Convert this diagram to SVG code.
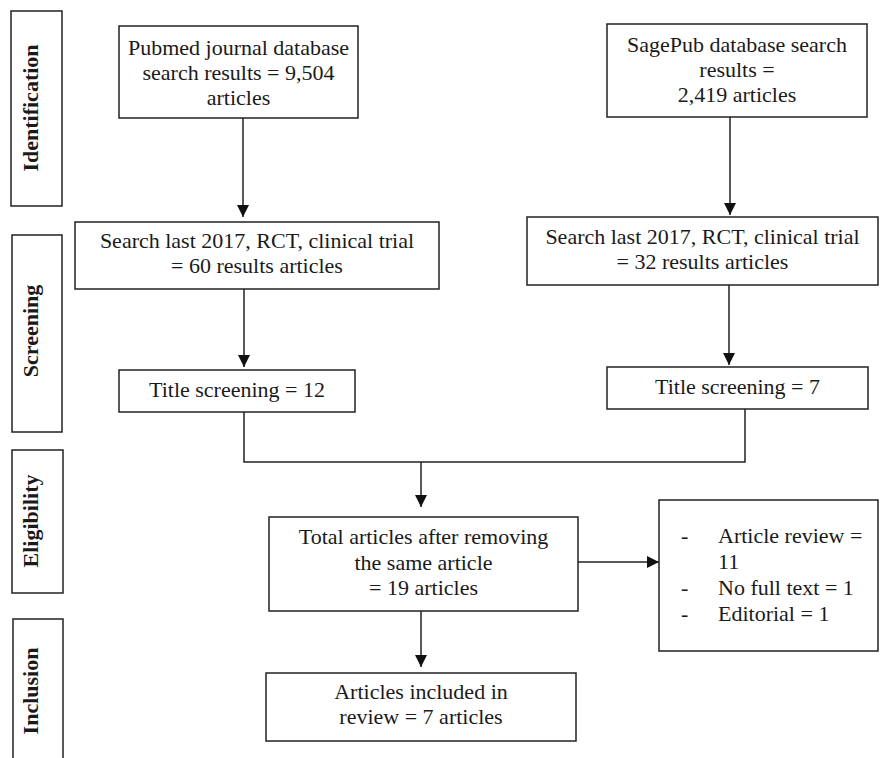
<svg xmlns="http://www.w3.org/2000/svg" width="880" height="758" viewBox="0 0 880 758">
<style>
.box{fill:#fff;stroke:#222;stroke-width:1.5}
.t{font-family:"Liberation Serif","Times New Roman",serif;font-size:22px;fill:#1a1a1a;text-anchor:middle}
.l{text-anchor:start}
.side{font-family:"Liberation Serif","Times New Roman",serif;font-size:22px;font-weight:bold;fill:#1a1a1a;text-anchor:middle}
.c{fill:none;stroke:#222;stroke-width:1.5}
</style>
<defs>
<marker id="ah" markerUnits="userSpaceOnUse" markerWidth="12" markerHeight="12" refX="12" refY="6" orient="auto" viewBox="0 0 12 12">
<path d="M0,0 L12,6 L0,12 z" fill="#111"/>
</marker>
</defs>
<rect width="880" height="758" fill="#fff"/>

<g id="stage-identification">
<rect class="box" x="11" y="11" width="51" height="195"/>
<text class="side" transform="translate(38,108) rotate(-90)">Identification</text>
</g>
<g id="stage-screening">
<rect class="box" x="12" y="235" width="50" height="197"/>
<text class="side" transform="translate(38,331) rotate(-90)">Screening</text>
</g>
<g id="stage-eligibility">
<rect class="box" x="12" y="450" width="51" height="143"/>
<text class="side" transform="translate(38,521) rotate(-90)">Eligibility</text>
</g>
<g id="stage-inclusion">
<rect class="box" x="13" y="619" width="50" height="145"/>
<text class="side" transform="translate(38,691) rotate(-90)">Inclusion</text>
</g>

<g id="connectors">
<path class="c" d="M243,118 V217" marker-end="url(#ah)"/>
<path class="c" d="M730,117 V215" marker-end="url(#ah)"/>
<path class="c" d="M244,289 V367" marker-end="url(#ah)"/>
<path class="c" d="M729,285 V365" marker-end="url(#ah)"/>
<path class="c" d="M244,412 V462 H745 V409"/>
<path class="c" d="M421,462 V507" marker-end="url(#ah)"/>
<path class="c" d="M421,611 V667" marker-end="url(#ah)"/>
<path class="c" d="M578,562 H659" marker-end="url(#ah)"/>
</g>

<g id="pubmed">
<rect class="box" x="119" y="26" width="239" height="92"/>
<text class="t" x="238.5" y="55">Pubmed journal database</text>
<text class="t" x="238.5" y="80">search results = 9,504</text>
<text class="t" x="238.5" y="105">articles</text>
</g>
<g id="sagepub">
<rect class="box" x="607" y="24" width="260" height="93"/>
<text class="t" x="737" y="52">SagePub database search</text>
<text class="t" x="737" y="77">results =</text>
<text class="t" x="737" y="102">2,419 articles</text>
</g>
<g id="search-left">
<rect class="box" x="75" y="222" width="364" height="67"/>
<text class="t" x="257" y="248">Search last 2017, RCT, clinical trial</text>
<text class="t" x="257" y="273">= 60 results articles</text>
</g>
<g id="search-right">
<rect class="box" x="527" y="217" width="351" height="68"/>
<text class="t" x="702.5" y="244">Search last 2017, RCT, clinical trial</text>
<text class="t" x="702.5" y="269">= 32 results articles</text>
</g>
<g id="title-left">
<rect class="box" x="119" y="370" width="236" height="42"/>
<text class="t" x="237" y="397">Title screening = 12</text>
</g>
<g id="title-right">
<rect class="box" x="607" y="367" width="261" height="42"/>
<text class="t" x="737.5" y="394">Title screening = 7</text>
</g>
<g id="total">
<rect class="box" x="269" y="517" width="309" height="94"/>
<text class="t" x="423.5" y="544">Total articles after removing</text>
<text class="t" x="423.5" y="570">the same article</text>
<text class="t" x="423.5" y="595">= 19 articles</text>
</g>
<g id="excluded">
<rect class="box" x="659" y="500" width="219" height="151"/>
<text class="t l" x="681" y="543">-</text>
<text class="t l" x="718" y="543">Article review =</text>
<text class="t l" x="718" y="569">11</text>
<text class="t l" x="681" y="595">-</text>
<text class="t l" x="718" y="595">No full text = 1</text>
<text class="t l" x="681" y="621">-</text>
<text class="t l" x="718" y="621">Editorial = 1</text>
</g>
<g id="included">
<rect class="box" x="266" y="673" width="310" height="68"/>
<text class="t" x="421" y="699">Articles included in</text>
<text class="t" x="421" y="724">review = 7 articles</text>
</g>
</svg>
